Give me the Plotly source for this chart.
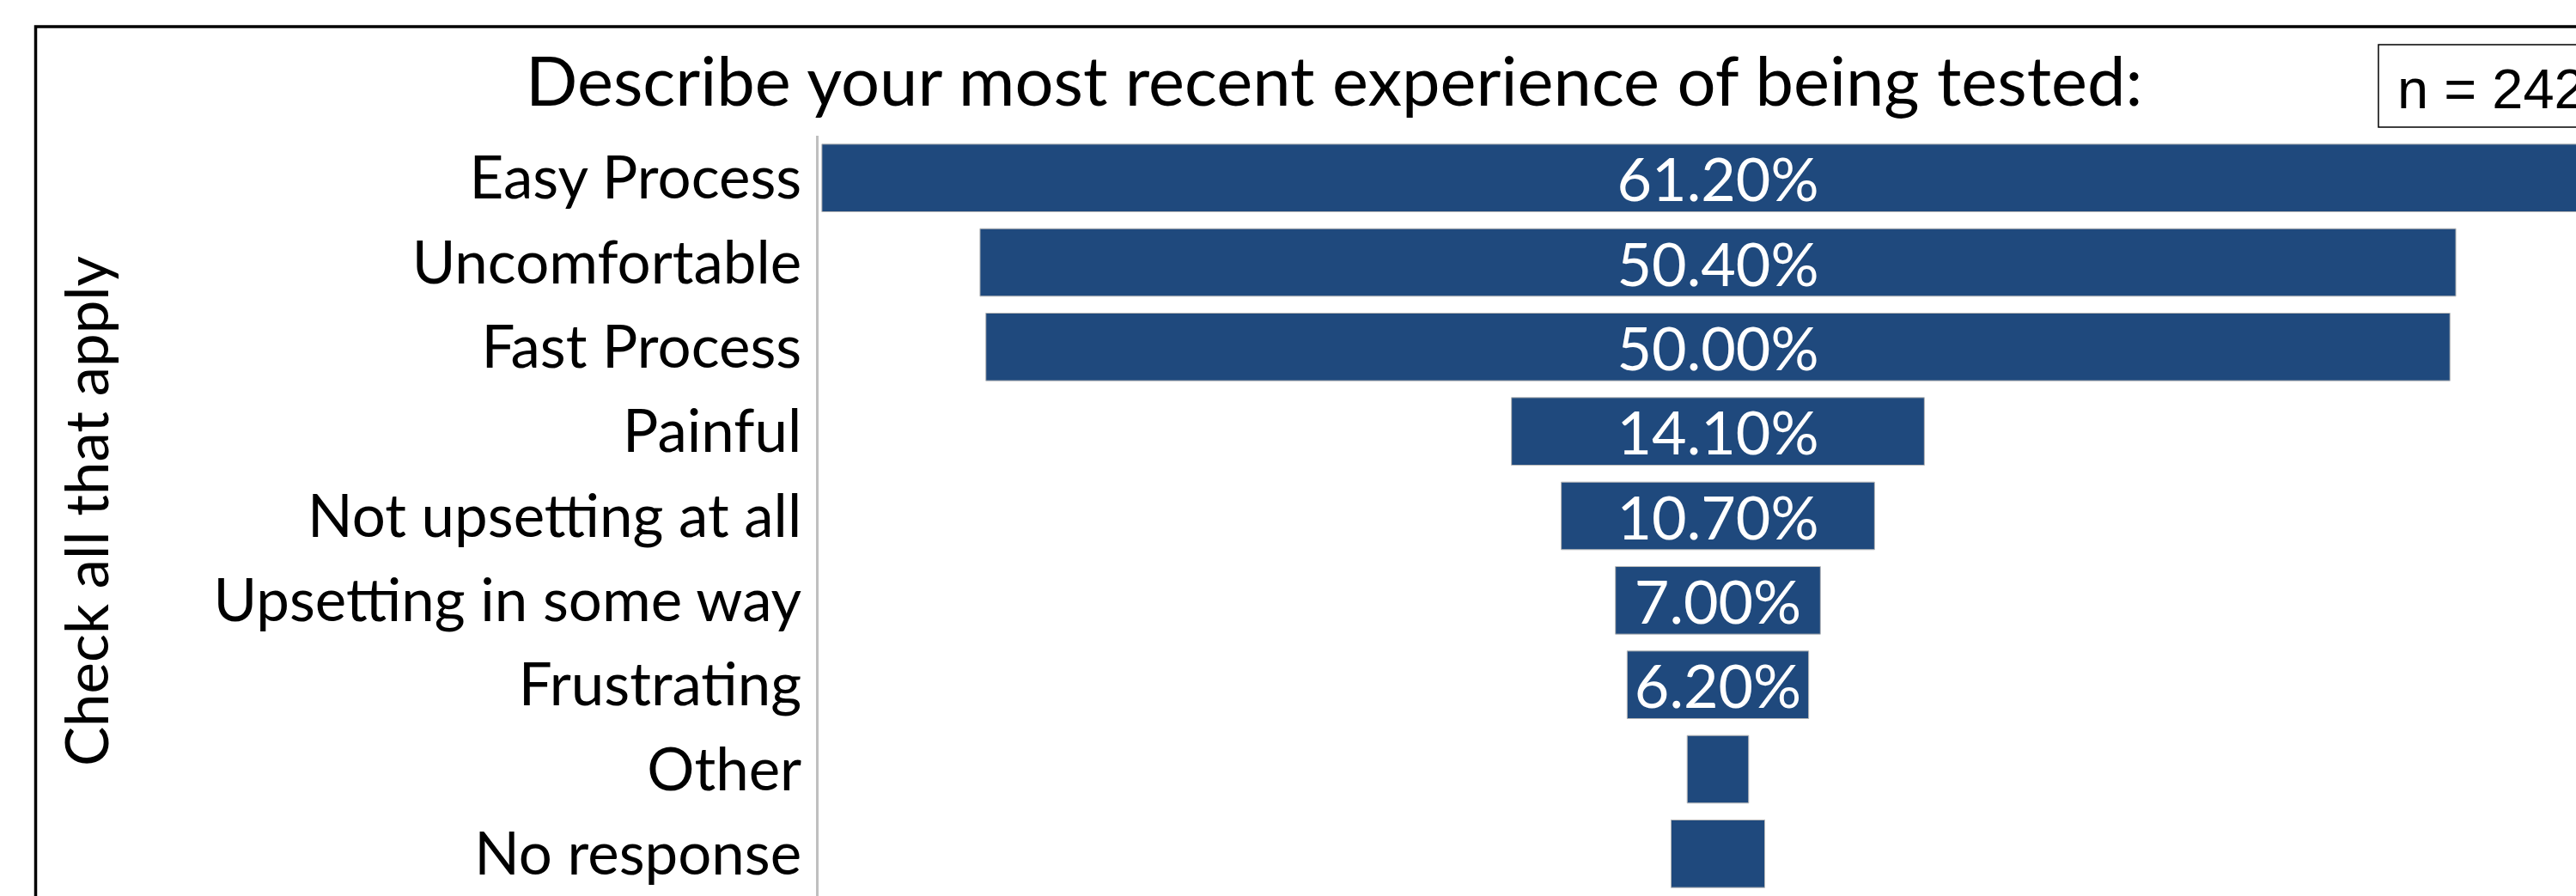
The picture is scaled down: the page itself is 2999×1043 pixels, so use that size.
import plotly.graph_objects as go

# ---------------- data ----------------
categories = ["Easy Process", "Uncomfortable", "Fast Process", "Painful",
              "Not upsetting at all", "Upsetting in some way", "Frustrating",
              "Other", "No response"]
values = [61.2, 50.4, 50.0, 14.1, 10.7, 7.0, 6.2, 2.1, 3.2]
show_label = [True, True, True, True, True, True, True, False, False]
title_text = "Describe your most recent experience of being tested:"
axis_title = "Check all that apply"
n_text = "n = 242"

labels = [f"{v:.2f}%" if s else "" for v, s in zip(values, show_label)]

# ---------------- layout geometry (pixels) ----------------
W, H = 2999, 1043
L, T, R, B = 953, 158, 0, 0
PW, PH = W - L - R, H - T - B
CENTER_PX = 2000.0
PX_PER_UNIT = 34.09


def px(xp):
    return (xp - L) / PW


def py(yp):
    return 1 - (yp - T) / PH


x_lo = -(CENTER_PX - L) / PX_PER_UNIT
x_hi = (W - R - CENTER_PX) / PX_PER_UNIT

FONT = "Lato"
BAR = "#1F497D"

fig = go.Figure(go.Funnel(
    y=categories,
    x=values,
    text=labels,
    textinfo="text",
    textposition="inside",
    insidetextanchor="middle",
    textangle=0,
    constraintext="none",
    insidetextfont=dict(family=FONT, size=70, color="white"),
    marker=dict(color=BAR, line=dict(color="#b8b8b8", width=1)),
    connector=dict(visible=False),
    hoverinfo="skip",
))

fig.update_layout(
    width=W, height=H,
    margin=dict(l=L, r=R, t=T, b=B, pad=0),
    paper_bgcolor="white",
    plot_bgcolor="white",
    showlegend=False,
    bargap=0.065,
    xaxis=dict(visible=False, range=[x_lo, x_hi], fixedrange=True),
    yaxis=dict(
        type="category",
        range=[len(categories) - 0.5, -0.5],
        showline=True, linecolor="#bfbfbf", linewidth=3,
        showgrid=False, zeroline=False, ticks="",
        ticklabelstandoff=3,
        tickfont=dict(family=FONT, size=69, color="black"),
    ),
)

# outer frame
fig.add_shape(type="rect", xref="paper", yref="paper",
              x0=px(41.5), x1=px(3100), y0=py(1200), y1=py(31),
              line=dict(color="black", width=3.5), fillcolor="rgba(0,0,0,0)",
              layer="above")

# title
fig.add_annotation(text=title_text, xref="paper", yref="paper",
                   x=px(1553), y=py(92), xanchor="center", yanchor="middle",
                   showarrow=False,
                   font=dict(family=FONT, size=79.5, color="black"))

# vertical axis title
fig.add_annotation(text=axis_title, xref="paper", yref="paper",
                   x=px(99), y=py(595), xanchor="center", yanchor="middle",
                   textangle=-90, showarrow=False,
                   font=dict(family=FONT, size=69, color="black"))

# n box
fig.add_shape(type="rect", xref="paper", yref="paper",
              x0=px(2769), x1=px(3100), y0=py(148), y1=py(52),
              line=dict(color="black", width=1.5), fillcolor="white")
fig.add_annotation(text=n_text, xref="paper", yref="paper",
                   x=px(2789), y=py(103), xanchor="left", yanchor="middle",
                   showarrow=False,
                   font=dict(family="Liberation Sans", size=65, color="black"))

fig.write_html("out.html", config={"displayModeBar": False})

# remove the default page margin so the figure sits at the window's corner
with open("out.html", "r", encoding="utf-8") as f:
    html = f.read()
html = html.replace("<body>", '<body style="margin:0;overflow:hidden">', 1)
with open("out.html", "w", encoding="utf-8") as f:
    f.write(html)
